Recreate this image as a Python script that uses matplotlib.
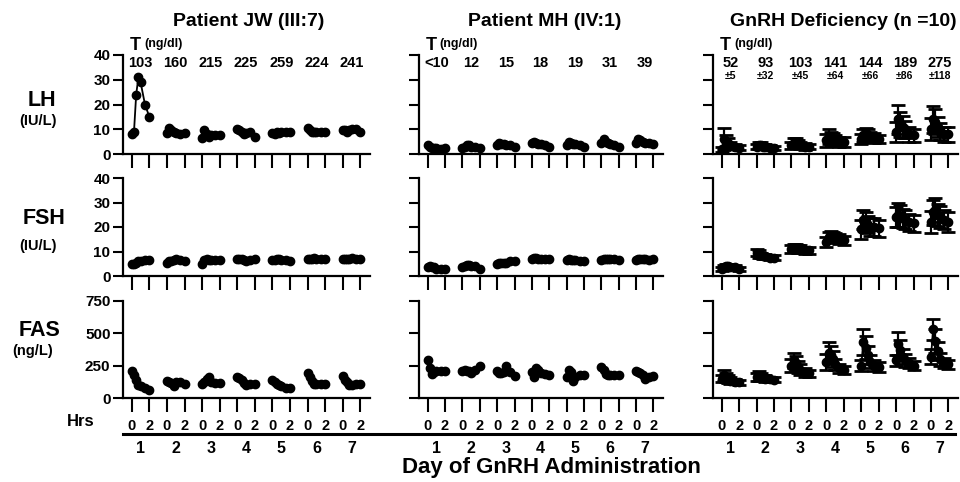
import numpy as np
import matplotlib
matplotlib.use('Agg')
import matplotlib.pyplot as plt
from matplotlib.lines import Line2D
import matplotlib.transforms as mtransforms

plt.rcParams['font.family'] = ['Liberation Sans', 'DejaVu Sans']
plt.rcParams['font.weight'] = 'bold'

# sampling times within each day (hours) and days
hrs  = [0, 0.25, 0.5, 0.75, 1, 1.5, 2]
days = [1, 2, 3, 4, 5, 6, 7]

titles = ['Patient JW (III:7)', 'Patient MH (IV:1)', 'GnRH Deficiency (n =10)']

# testosterone (ng/dl) printed over each day
t_jw   = ['103', '160', '215', '225', '259', '224', '241']
t_mh   = ['<10', '12', '15', '18', '19', '31', '39']
t_gn   = ['52', '93', '103', '141', '144', '189', '275']
t_gn_se = ['±5', '±32', '±45', '±64', '±66', '±86', '±118']

# Patient JW
jw_lh = [[8, 9, 24, 31, 29, 20, 15],
         [8.5, 10.5, 9.5, 9, 8.5, 8, 8.5],
         [6.5, 9.5, 8, 7, 7.5, 7.5, 7.5],
         [10, 9.5, 9, 8, 8.5, 9, 7],
         [8.5, 8, 9, 8.5, 9, 9, 9],
         [10.5, 9.5, 9, 9, 9, 9, 9],
         [9.5, 9.5, 9, 9.5, 10, 10, 9]]
jw_fsh = [[5, 5, 5.5, 6, 6, 6.5, 6.5],
          [5.5, 6, 6, 6.5, 7, 6.5, 6],
          [5, 6.5, 7, 6.5, 6.5, 6.5, 6.5],
          [7, 7, 7, 6.5, 6, 6.5, 7],
          [6.5, 6.5, 7, 7, 6.5, 6.5, 6],
          [7, 7, 7, 7.5, 7, 7, 7],
          [7, 7, 7, 7, 7.5, 7, 7]]
jw_fas = [[205, 180, 140, 100, 90, 75, 65],
          [135, 125, 115, 90, 125, 125, 110],
          [105, 120, 150, 165, 120, 115, 115],
          [165, 155, 140, 115, 100, 105, 105],
          [140, 120, 110, 100, 90, 80, 75],
          [195, 160, 130, 105, 105, 110, 110],
          [170, 140, 120, 100, 100, 110, 105]]

# Patient MH
mh_lh = [[3.5, 3, 2.5, 2.5, 2.5, 2, 2.5],
         [2.5, 3, 3.5, 3.5, 3, 3, 2.5],
         [3.5, 4.5, 4, 4, 3.5, 3.5, 3],
         [4.5, 5, 4.5, 4, 4, 3.5, 3],
         [3.5, 5, 4.5, 4, 4, 3.5, 3],
         [4.5, 6, 5, 4.5, 4, 3.5, 3],
         [4.5, 6, 5.5, 5, 4.5, 4.5, 4]]
mh_fsh = [[3.5, 4, 3.5, 3.5, 3, 3, 3],
          [3.5, 4, 4.5, 4.5, 4, 4, 3],
          [5, 5.5, 5.5, 5.5, 5.5, 6, 6],
          [7, 7.5, 7.5, 7, 7, 7, 7],
          [6.5, 7, 6.5, 6.5, 6.5, 6, 6],
          [6.5, 7, 7, 7, 7, 7, 6.5],
          [6.5, 7, 7, 7, 7, 6.5, 7]]
mh_fas = [[290, 230, 185, 200, 210, 210, 210],
          [210, 215, 210, 205, 195, 215, 245],
          [210, 195, 190, 200, 245, 200, 170],
          [200, 160, 230, 215, 190, 185, 180],
          [165, 215, 200, 135, 160, 180, 180],
          [240, 215, 185, 175, 180, 180, 180],
          [205, 200, 195, 175, 150, 165, 170]]

# GnRH deficiency, mean and SE
gn_lh = [[2, 6, 5, 4.5, 3.5, 3, 2.5],
         [3, 3.5, 3.5, 3, 3, 2.5, 2.5],
         [3.5, 4.5, 4.5, 4, 3.5, 3, 3],
         [5.5, 7, 6.5, 6, 5.5, 5, 5],
         [6, 7.5, 8, 7.5, 7, 6.5, 6],
         [9, 14, 12, 11, 10, 8, 7.5],
         [10, 14, 13, 11, 9, 8, 8]]
gn_lh_se = [[1, 4.5, 2.5, 2, 1.5, 1, 1],
            [1, 1.5, 1.5, 1, 1, 1, 0.8],
            [1.5, 2, 2, 1.5, 1.5, 1.5, 1],
            [2.5, 3, 2.5, 2.5, 2, 2, 2],
            [2, 2.5, 2.5, 2.5, 2, 2, 1.5],
            [4, 6, 5, 4.5, 3.5, 3, 2.5],
            [4.5, 5.5, 5, 4, 3.5, 3, 3]]
gn_fsh = [[3, 3.5, 4, 4, 3.5, 3.5, 3],
          [9.5, 9, 8.5, 8, 8, 7.5, 7.5],
          [11, 11.5, 11.5, 11, 11, 10.5, 10.5],
          [14, 16, 16.5, 16, 15.5, 15, 14.5],
          [19, 23, 22, 21, 20, 20, 19.5],
          [24, 25, 24.5, 23.5, 23, 22, 21.5],
          [22, 26, 27, 25, 24, 23, 22]]
gn_fsh_se = [[0.8, 0.8, 1, 1, 0.8, 0.8, 0.8],
             [1.5, 1.5, 1, 1, 1, 1, 1],
             [1.5, 1.5, 1.5, 1.5, 1.5, 1.5, 1.5],
             [2, 2, 2, 2, 2, 2, 2],
             [4, 4, 4, 3.5, 3.5, 3.5, 3.5],
             [4, 5, 4.5, 4, 4, 3.5, 3.5],
             [4.5, 5, 5, 4.5, 4.5, 4, 4]]
gn_fas = [[150, 175, 160, 145, 135, 125, 120],
          [160, 170, 165, 155, 150, 145, 140],
          [250, 290, 270, 240, 220, 200, 190],
          [280, 350, 330, 300, 260, 230, 215],
          [250, 430, 390, 330, 280, 250, 240],
          [290, 420, 370, 320, 290, 270, 250],
          [320, 530, 440, 360, 300, 270, 260]]
gn_fas_se = [[30, 40, 35, 30, 25, 20, 20],
             [30, 35, 30, 25, 25, 20, 20],
             [50, 60, 55, 45, 40, 35, 30],
             [60, 80, 70, 60, 45, 35, 30],
             [40, 100, 90, 70, 50, 40, 40],
             [40, 90, 80, 60, 50, 40, 35],
             [60, 80, 90, 70, 50, 40, 35]]

rows = [('LH', '(IU/L)', 40, [0, 10, 20, 30, 40]),
        ('FSH', '(IU/L)', 40, [0, 10, 20, 30, 40]),
        ('FAS', '(ng/L)', 750, [0, 250, 500, 750])]
data = [[jw_lh, mh_lh, gn_lh], [jw_fsh, mh_fsh, gn_fsh], [jw_fas, mh_fas, gn_fas]]
errs = [gn_lh_se, gn_fsh_se, gn_fas_se]

W, H = 960, 482
fig = plt.figure(figsize=(W/100, H/100), dpi=100)

col_px = [(123, 370), (419, 663), (713, 958)]
row_px = [(55, 154), (178, 276), (301, 398)]
row_lab = [((42, 101), (38, 121)), ((44, 219), (38, 246)), ((40, 331), (33, 351))]

for r, (name, unit, ymax, yt) in enumerate(rows):
    top, bot = row_px[r]
    fig.text(row_lab[r][0][0]/W, 1 - row_lab[r][0][1]/H, name, fontsize=15.5,
             ha='center', va='center')
    fig.text(row_lab[r][1][0]/W, 1 - row_lab[r][1][1]/H, unit, fontsize=10.5,
             ha='center', va='center')
    for c in range(3):
        l, rgt = col_px[c]
        ax = fig.add_axes([l/W, 1 - bot/H, (rgt - l)/W, (bot - top)/H])
        for s in ['top', 'right']:
            ax.spines[s].set_visible(False)
        for s in ['left', 'bottom']:
            ax.spines[s].set_linewidth(1.6)
        ax.set_ylim(0, ymax)
        ax.set_xlim(-1, 27.1)
        ax.set_yticks(yt)
        ticks = []
        for d in days:
            ticks += [(d - 1)*4, (d - 1)*4 + 2]
        ax.set_xticks(ticks)
        ax.tick_params(axis='both', direction='out', width=1.5, labelsize=11)
        ax.tick_params(axis='x', length=10, pad=5)
        ax.tick_params(axis='y', length=7, pad=2)
        if c > 0:
            ax.set_yticklabels([])
        if r < 2:
            ax.set_xticklabels([])
        else:
            ax.set_xticklabels(['0', '2']*7, fontsize=10.5)
        for i, d in enumerate(days):
            xs = [(d - 1)*4 + h for h in hrs]
            if c < 2:
                ax.plot(xs, data[r][c][i], 'o-', color='k', ms=6, lw=1.3)
            else:
                ax.errorbar(xs, data[r][c][i], yerr=errs[r][i], fmt='o-',
                            color='k', ms=6, lw=1.3, elinewidth=1.6,
                            capsize=5, capthick=2)
        trans = mtransforms.blended_transform_factory(ax.transData, ax.transAxes)
        if r == 0:
            tv = [t_jw, t_mh, t_gn][c]
            ax.text(-0.2, 1.10, 'T', fontsize=13, ha='left', va='center',
                    transform=trans)
            ax.text(1.4, 1.11, '(ng/dl)', fontsize=9, ha='left', va='center',
                    transform=trans)
            for i, d in enumerate(days):
                ax.text((d - 1)*4 + 1, 0.92, tv[i], fontsize=10.5, ha='center',
                        va='center', transform=trans)
                if c == 2:
                    ax.text((d - 1)*4 + 1, 0.79, t_gn_se[i], fontsize=7.5,
                            ha='center', va='center', transform=trans)
        if r == 2:
            for d in days:
                ax.text((d - 1)*4 + 1, -0.52, str(d), fontsize=11.5, ha='center',
                        va='center', transform=trans)

for c, t in enumerate(titles):
    fig.text([249, 545, 843][c]/W, 1 - 22/H, t, fontsize=14, ha='center',
             va='center')

fig.text(81/W, 1 - 422/H, 'Hrs', fontsize=12, ha='center', va='center')
fig.add_artist(Line2D([123/W, 955/W], [1 - 434/H, 1 - 434/H], color='k',
                      lw=2.2, transform=fig.transFigure))
fig.text(551/W, 1 - 468/H, 'Day of GnRH Administration', fontsize=16,
         ha='center', va='center')

fig.savefig('out.png', dpi=100)
